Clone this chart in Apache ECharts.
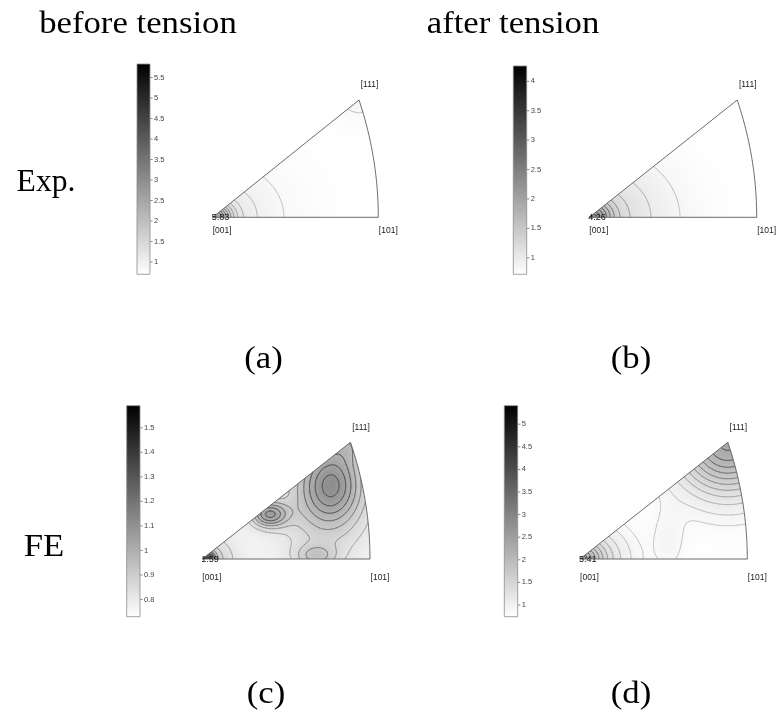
<!DOCTYPE html>
<html>
<head>
<meta charset="utf-8">
<script src="https://cdn.jsdelivr.net/npm/echarts@6/dist/echarts.min.js"></script>
<style>
  html, body { margin: 0; padding: 0; background: #ffffff; }
  #chart { width: 776px; height: 718px; }
</style>
</head>
<body>
<div id="chart"></div>
<script>
// ---------------------------------------------------------------------------
// Inverse pole figures (cubic standard triangle), grey-scale density in mrd
// ---------------------------------------------------------------------------
const columnTitles = ['before tension', 'after tension'];
const rowLabels = ['Exp.', 'FE'];
const panelTags = ['(a)', '(b)', '(c)', '(d)'];
const poleNames = ['[001]', '[101]', '[111]'];
const poleIndices = [[0, 0, 1], [1, 0, 1], [1, 1, 1]];

// colour-bar ranges [min, max]; the max is the peak value printed at [001]
const rangeA = [0.70, 5.83];
const rangeB = [0.72, 4.26];
const rangeC = [0.73, 1.59];
const rangeD = [0.74, 5.41];

// colour-bar tick labels
const ticksA = [1, 1.5, 2, 2.5, 3, 3.5, 4, 4.5, 5, 5.5];
const ticksB = [1, 1.5, 2, 2.5, 3, 3.5, 4];
const ticksC = [0.8, 0.9, 1, 1.1, 1.2, 1.3, 1.4, 1.5];
const ticksD = [1, 1.5, 2, 2.5, 3, 3.5, 4, 4.5, 5];

// density components in stereographic coordinates:
// [X, Y, height, widthX, widthY]; the first one sits at [001] and its height
// is set so the density there equals the peak value
const backgroundA = 0.72;
const componentsA = [
  [0, 0, null, 0.008, 0.008], [0, 0, 1.3, 0.045, 0.045], [0, 0, 0.45, 0.16, 0.16],
  [0.366, 0.366, 0.2, 0.06, 0.06]
];
const backgroundB = 0.72;
const componentsB = [
  [0, 0, null, 0.008, 0.008], [0, 0, 1.01, 0.052, 0.052], [0, 0, 0.54, 0.188, 0.188]
];
const backgroundC = 0.76;
const componentsC = [
  [0, 0, null, 0.022, 0.022], [0, 0, 0.16, 0.075, 0.075],
  [0.30, 0.20, 0.15, 0.11, 0.20],
  [0.322, 0.235, 0.21, 0.07, 0.11],
  [0.165, 0.14, 0.27, 0.045, 0.04],
  [0.28, 0.01, 0.12, 0.05, 0.035],
  [0.366, 0.366, 0.10, 0.06, 0.06]
];
const backgroundD = 0.74;
const componentsD = [
  [0, 0, null, 0.008, 0.008], [0, 0, 0.645, 0.05, 0.05], [0, 0, 0.84, 0.107, 0.107],
  [0.366, 0.366, 1.6, 0.13, 0.16],
  [0.22, 0.06, 0.17, 0.04, 0.10]
];

// contour levels
const levelsA = [0.85, 1.0, 1.15, 1.3, 1.45, 1.6, 1.75, 1.9, 2.05, 2.2];
const levelsB = [0.85, 1.0, 1.15, 1.3, 1.45, 1.6, 1.75, 1.9, 2.05, 2.2];
const levelsC = [0.82, 0.865, 0.91, 0.955, 1.0, 1.045, 1.09, 1.135, 1.2, 1.3, 1.4, 1.5];
const levelsD = [0.85, 0.95, 1.1, 1.25, 1.4, 1.55, 1.7, 1.85, 2.0, 2.15, 2.3];

// ---------------------------------------------------------------------------
// page layout (pixels)
// ---------------------------------------------------------------------------
const layout = [
  { tri: { left: 212.7, top: 100, width: 165.6, height: 117.3 }, bar: { left: 137, top: 64, width: 13, height: 210.3 }, below: 13.5, above: -15.5 },
  { tri: { left: 589.3, top: 100, width: 167.4, height: 117.3 }, bar: { left: 513.3, top: 66, width: 13.4, height: 208.3 }, below: 13.5, above: -15.5 },
  { tri: { left: 202.3, top: 442.3, width: 167.7, height: 116.7 }, bar: { left: 126.7, top: 405.7, width: 13.3, height: 211 }, below: 18.5, above: -15 },
  { tri: { left: 580, top: 442.3, width: 167.3, height: 116.7 }, bar: { left: 504.3, top: 405.7, width: 13.4, height: 211 }, below: 18.5, above: -15 }
];
const serif = 'Liberation Serif';
const sans = 'Liberation Sans';

// stereographic projection of a crystal direction
function project(d) {
  const n = Math.hypot(d[0], d[1], d[2]);
  const z = d[2] / n;
  return [d[0] / n / (1 + z), d[1] / n / (1 + z)];
}
const poles = poleIndices.map(project);
const XMAX = poles[1][0];
const YMAX = poles[2][1];

function insideTriangle(x, y) {
  const e = 1e-9;
  return y >= -e && y <= x + e && (x + 1) * (x + 1) + y * y <= 2 + e;
}

function makeField(background, components, peak) {
  const comps = components.map(c => c.slice());
  let rest = background;
  for (let i = 1; i < comps.length; i++) {
    const c = comps[i];
    rest += c[2] * Math.exp(-(c[0] * c[0]) / (c[3] * c[3]) - (c[1] * c[1]) / (c[4] * c[4]));
  }
  comps[0][2] = peak - rest;
  return (x, y) => {
    let v = background;
    for (const c of comps) {
      const dx = (x - c[0]) / c[3], dy = (y - c[1]) / c[4];
      v += c[2] * Math.exp(-dx * dx - dy * dy);
    }
    return v;
  };
}

const NX = 120, NY = 90;
const DX = XMAX / NX, DY = YMAX / NY;

function cellTouches(i, j) {
  return insideTriangle(i * DX, j * DY) || insideTriangle((i + 1) * DX, j * DY) ||
         insideTriangle(i * DX, (j + 1) * DY) || insideTriangle((i + 1) * DX, (j + 1) * DY);
}

function marching(v, level, out) {
  for (let i = 0; i < NX; i++) {
    for (let j = 0; j < NY; j++) {
      if (!cellTouches(i, j)) continue;
      const a = v[i][j], b = v[i + 1][j], c = v[i + 1][j + 1], d = v[i][j + 1];
      const idx = (a > level ? 1 : 0) | (b > level ? 2 : 0) | (c > level ? 4 : 0) | (d > level ? 8 : 0);
      if (idx === 0 || idx === 15) continue;
      const x0 = i * DX, x1 = x0 + DX, y0 = j * DY, y1 = y0 + DY;
      const B = () => [x0 + (level - a) / (b - a) * DX, y0];
      const R = () => [x1, y0 + (level - b) / (c - b) * DY];
      const T = () => [x0 + (level - d) / (c - d) * DX, y1];
      const L = () => [x0, y0 + (level - a) / (d - a) * DY];
      const segs = [];
      const centreHigh = (a + b + c + d) / 4 > level;
      switch (idx) {
        case 1: case 14: segs.push([L(), B()]); break;
        case 2: case 13: segs.push([B(), R()]); break;
        case 3: case 12: segs.push([L(), R()]); break;
        case 4: case 11: segs.push([R(), T()]); break;
        case 6: case 9: segs.push([B(), T()]); break;
        case 7: case 8: segs.push([L(), T()]); break;
        case 5:
          if (centreHigh) { segs.push([B(), R()]); segs.push([T(), L()]); }
          else { segs.push([L(), B()]); segs.push([R(), T()]); }
          break;
        case 10:
          if (centreHigh) { segs.push([L(), B()]); segs.push([R(), T()]); }
          else { segs.push([B(), R()]); segs.push([T(), L()]); }
          break;
      }
      for (const s of segs) out.push([s[0][0], s[0][1], s[1][0], s[1][1], level]);
    }
  }
}

// contour stroke: light for low levels, darker towards the peaks
function lineGray(level, range) {
  const t = (level - range[0]) / (range[1] - range[0]);
  const l = Math.max(0.3, Math.min(0.8, 0.8 - 1.6 * t));
  const c = Math.round(l * 255);
  return 'rgb(' + c + ',' + c + ',' + c + ')';
}

const panels = [
  { range: rangeA, ticks: ticksA, background: backgroundA, components: componentsA, levels: levelsA },
  { range: rangeB, ticks: ticksB, background: backgroundB, components: componentsB, levels: levelsB },
  { range: rangeC, ticks: ticksC, background: backgroundC, components: componentsC, levels: levelsC },
  { range: rangeD, ticks: ticksD, background: backgroundD, components: componentsD, levels: levelsD }
];

const grids = [], xAxes = [], yAxes = [], series = [], visualMaps = [];

panels.forEach((p, k) => {
  const lay = layout[k];
  const field = makeField(p.background, p.components, p.range[1]);

  // node values
  const nodes = [];
  for (let i = 0; i <= NX; i++) {
    const col = [];
    for (let j = 0; j <= NY; j++) col.push(field(i * DX, j * DY));
    nodes.push(col);
  }
  // density cells
  const cells = [];
  for (let i = 0; i < NX; i++) {
    for (let j = 0; j < NY; j++) {
      if (!cellTouches(i, j)) continue;
      const cx = (i + 0.5) * DX, cy = (j + 0.5) * DY;
      const v = Math.min(p.range[1], Math.max(p.range[0], field(cx, cy)));
      cells.push([cx, cy, v]);
    }
  }
  // contour segments
  const segments = [];
  p.levels.forEach(level => marching(nodes, level, segments));

  // triangle grid
  grids.push(Object.assign({ containLabel: false, outerBoundsMode: 'none', show: false }, lay.tri));
  xAxes.push({ gridIndex: k, type: 'value', min: 0, max: XMAX, show: false });
  yAxes.push({ gridIndex: k, type: 'value', min: 0, max: YMAX, show: false });

  const cellSeriesIndex = series.length;
  series.push({
    type: 'custom', coordinateSystem: 'cartesian2d', xAxisIndex: k, yAxisIndex: k,
    silent: true, animation: false, progressive: 0, z: 2,
    data: cells,
    renderItem(params, api) {
      const x = api.value(0), y = api.value(1);
      const p0 = api.coord([x - DX / 2, y + DY / 2]);
      const p1 = api.coord([x + DX / 2, y - DY / 2]);
      return {
        type: 'rect',
        shape: { x: p0[0] - 0.3, y: p0[1] - 0.3, width: p1[0] - p0[0] + 0.6, height: p1[1] - p0[1] + 0.6 },
        style: { fill: api.visual('color') }
      };
    }
  });
  visualMaps.push({
    type: 'continuous', show: false, seriesIndex: cellSeriesIndex, dimension: 2,
    min: p.range[0], max: p.range[1], inRange: { color: ['#ffffff', '#000000'] }
  });

  series.push({
    type: 'custom', coordinateSystem: 'cartesian2d', xAxisIndex: k, yAxisIndex: k,
    silent: true, animation: false, progressive: 0, z: 3,
    data: segments,
    renderItem(params, api) {
      const a = api.coord([api.value(0), api.value(1)]);
      const b = api.coord([api.value(2), api.value(3)]);
      return {
        type: 'line',
        shape: { x1: a[0], y1: a[1], x2: b[0], y2: b[1] },
        style: { stroke: lineGray(api.value(4), p.range), lineWidth: 0.7, lineCap: 'round' }
      };
    }
  });

  // outline of the standard triangle, white surround, pole names and peak value
  series.push({
    type: 'custom', coordinateSystem: 'cartesian2d', xAxisIndex: k, yAxisIndex: k,
    silent: true, animation: false, z: 4,
    data: [[poles[0][0], poles[0][1]]],
    renderItem(params, api) {
      const c001 = api.coord(poles[0]);
      const c101 = api.coord(poles[1]);
      const c111 = api.coord(poles[2]);
      const arc = [];
      const N = 48;
      for (let s = 0; s <= N; s++) {
        const Y = YMAX * (1 - s / N);
        arc.push(api.coord([Math.sqrt(2 - Y * Y) - 1, Y]));
      }
      const l = lay.tri.left - 4, r = lay.tri.left + lay.tri.width + 4;
      const t = lay.tri.top - 4, b = lay.tri.top + lay.tri.height;
      const maskLeft = [c001, c111, [c111[0], t], [l, t], [l, c001[1]]];
      const maskRight = [c111].concat(arc).concat([[r, b], [r, t], [c111[0], t]]);
      const maskBelow = [[l, b], [r, b], [r, b + 3], [l, b + 3]];
      const outline = [c001, c101].concat(arc.slice().reverse()).concat([c001]);
      const txt = (text, x, y, align, vAlign, size, fill) => ({
        type: 'text', x: x, y: y,
        style: {
          text: text, fontFamily: sans, fontSize: size, fill: fill,
          align: align, verticalAlign: vAlign, textAlign: align, textVerticalAlign: vAlign
        }
      });
      return {
        type: 'group',
        children: [
          { type: 'polygon', shape: { points: maskLeft }, style: { fill: '#ffffff' } },
          { type: 'polygon', shape: { points: maskRight }, style: { fill: '#ffffff' } },
          { type: 'polygon', shape: { points: maskBelow }, style: { fill: '#ffffff' } },
          { type: 'polyline', shape: { points: outline }, style: { stroke: '#5a5a5a', lineWidth: 0.9, fill: null } },
          txt(poleNames[0], c001[0] + 9.5, c001[1] + lay.below, 'center', 'middle', 8.5, '#222'),
          txt(poleNames[1], c101[0] + 10, c101[1] + lay.below, 'center', 'middle', 8.5, '#222'),
          txt(poleNames[2], c111[0] + 10.5, c111[1] + lay.above, 'center', 'middle', 8.5, '#222'),
          txt(String(p.range[1]), c001[0] - 1, c001[1] + 0.5, 'left', 'middle', 9, '#111')
        ]
      };
    }
  });
});

// colour bars
panels.forEach((p, k) => {
  const lay = layout[k];
  const gi = grids.length;
  grids.push(Object.assign({ containLabel: false, outerBoundsMode: 'none', show: false }, lay.bar));
  xAxes.push({ gridIndex: gi, type: 'value', min: 0, max: 1, show: false });
  yAxes.push({
    gridIndex: gi, type: 'value', min: p.range[0], max: p.range[1], position: 'right',
    axisLine: { show: false },
    splitLine: { show: false },
    axisTick: { show: false },
    axisLabel: { show: true, customValues: p.ticks, margin: 4, fontSize: 7.5, fontFamily: sans, color: '#444' }
  });
  series.push({
    type: 'custom', coordinateSystem: 'cartesian2d', xAxisIndex: gi, yAxisIndex: gi,
    silent: true, animation: false, z: 2,
    data: [[0, p.range[0], p.range[1]]],
    renderItem(params, api) {
      const top = api.coord([0, api.value(2)]);
      const bottom = api.coord([1, api.value(1)]);
      const children = [{
        type: 'rect',
        shape: { x: top[0], y: top[1], width: bottom[0] - top[0], height: bottom[1] - top[1] },
        style: {
          fill: new echarts.graphic.LinearGradient(0, 0, 0, 1, [
            { offset: 0, color: '#000000' }, { offset: 1, color: '#ffffff' }
          ]),
          stroke: '#8a8a8a', lineWidth: 0.8
        }
      }];
      p.ticks.forEach(v => {
        const q = api.coord([1, v]);
        children.push({
          type: 'line',
          shape: { x1: q[0] + 0.4, y1: q[1], x2: q[0] + 2.6, y2: q[1] },
          style: { stroke: '#666', lineWidth: 0.8 }
        });
      });
      return { type: 'group', children: children };
    }
  });
});

// titles, row labels and panel tags
function serifText(text, x, y, sx) {
  return {
    type: 'text', x: x, y: y, scaleX: sx || 1.12, silent: true,
    style: {
      text: text, fontFamily: serif, fontSize: 31, fill: '#000',
      align: 'center', verticalAlign: 'middle', textAlign: 'center', textVerticalAlign: 'middle'
    }
  };
}
const graphic = [
  serifText(columnTitles[0], 138, 25),
  serifText(columnTitles[1], 513, 25),
  serifText(rowLabels[0], 46, 183, 1.02),
  serifText(rowLabels[1], 44, 548),
  serifText(panelTags[0], 263.5, 360),
  serifText(panelTags[1], 631, 360),
  serifText(panelTags[2], 266, 695),
  serifText(panelTags[3], 631, 695)
];

const chart = echarts.init(document.getElementById('chart'), null, { renderer: 'canvas', devicePixelRatio: 1 });
chart.setOption({
  animation: false,
  backgroundColor: '#ffffff',
  grid: grids,
  xAxis: xAxes,
  yAxis: yAxes,
  visualMap: visualMaps,
  series: series,
  graphic: graphic
});
</script>
</body>
</html>
